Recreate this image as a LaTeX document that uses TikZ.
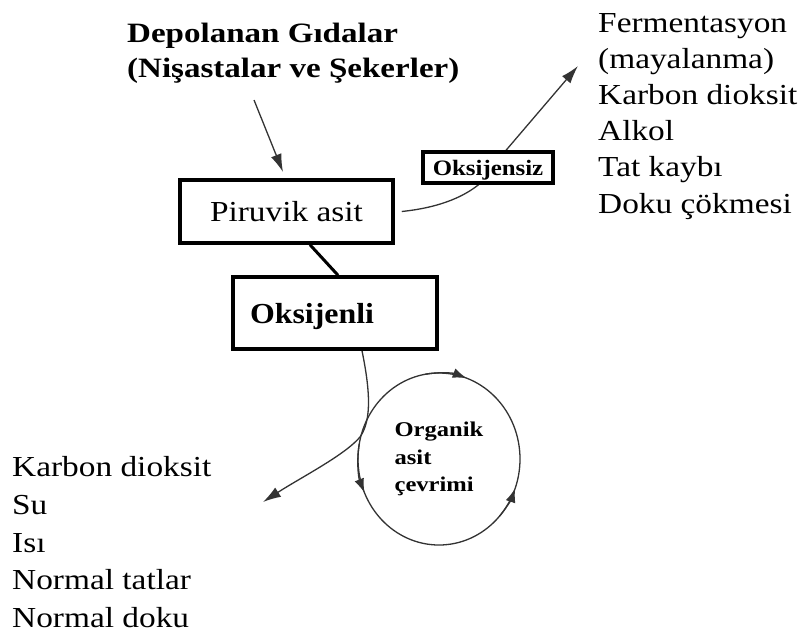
\documentclass[tikz,border=0pt]{standalone}
\usepackage{graphicx}
\usepackage{fontspec}
\setmainfont{Liberation Serif}
\usetikzlibrary{shapes.geometric,arrows.meta,calc}
\pgfdeclarelayer{background}
\pgfsetlayers{background,main}
\newcommand{\hs}[2][1.15]{\scalebox{#1}[1]{#2}}
\begin{document}
\begin{tikzpicture}[x=1pt,y=-1pt,
  box/.style={draw,line width=3.5pt,fill=white,inner sep=0pt,text depth=0pt},
  arr/.style={draw=black!80,line width=1.3pt,-{Latex[length=18pt,width=11pt]}},
  cyc/.style={draw=black!80,line width=1.3pt,-{Latex[length=14pt,width=10pt]}},
  reg/.style={font=\fontsize{29}{35}\selectfont},
  lst/.style={anchor=base west,align=left,inner sep=0pt},
]
\useasboundingbox (0,0) rectangle (803,633);

% title (base anchor = baseline of the last line)
\node[lst,font=\bfseries\fontsize{28}{35}\selectfont] (title) at (127,77)
  {\hs[1.18]{Depolanan Gıdalar}\\\hs[1.18]{(Nişastalar ve Şekerler)}};

% right list
\node[lst,font=\fontsize{29}{36.2}\selectfont] (anaer) at (598,213)
  {\hs{Fermentasyon}\\\hs{(mayalanma)}\\\hs{Karbon dioksit}\\\hs{Alkol}\\\hs{Tat kaybı}\\\hs{Doku çökmesi}};

% left list
\node[lst,font=\fontsize{29}{37.7}\selectfont] (aer) at (12,627.5)
  {\hs{Karbon dioksit}\\\hs{Su}\\\hs{Isı}\\\hs{Normal tatlar}\\\hs{Normal doku}};

% boxes
\node[box,reg,minimum width=213pt,minimum height=63pt] (piruvik) at (286.5,211.5) {\hs{Piruvik asit}};
\node[box,font=\bfseries\fontsize{29}{35}\selectfont,minimum width=204pt,minimum height=72pt,
      text width=170pt,align=left,inner xsep=17pt] (oksijenli) at (335,313) {\hs[1.1]{Oksijenli}};
\node[box,font=\bfseries\fontsize{22}{25}\selectfont,minimum width=130pt,minimum height=31pt]
  (oksijensiz) at (488,167.5) {\hs[1.13]{Oksijensiz}};

% cycle
\node[ellipse,draw=black!80,line width=1.3pt,minimum width=162pt,minimum height=172pt,inner sep=0pt,
      align=left,font=\bfseries\fontsize{21}{27.5}\selectfont] (cycle) at (439,459)
  {\hs[1.17]{Organik}\\\hs[1.17]{asit}\\\hs[1.17]{çevrimi}};

\coordinate (tA) at (254,100);
\coordinate (tB) at (283,172);
\coordinate (fTip) at (578,66);
\coordinate (fMid) at (502,155);
\coordinate (aBend) at (360,437);
\coordinate (aTip) at (263,502);

\begin{pgfonlayer}{background}
\draw[arr] (tA) -- (tB);
\draw[arr] ([xshift=7pt]piruvik.east) .. controls (445,207) and (485,192) .. (fMid) -- (fTip);
\draw[line width=3pt] ([xshift=23.5pt]piruvik.south) -- ([xshift=3pt]oksijenli.north);
\draw[arr] ([xshift=27pt]oksijenli.south) .. controls (370,390) and (372,420) .. (aBend)
  .. controls (345,455) and (300,478) .. (aTip);
\end{pgfonlayer}

% arrowheads on the cycle
\draw[cyc] (cycle.center) ++(-100:81 and 86) arc[start angle=-100,end angle=-70,x radius=81,y radius=86];
\draw[cyc] (cycle.center) ++(190:81 and 86) arc[start angle=190,end angle=157,x radius=81,y radius=86];
\draw[cyc] (cycle.center) ++(42:81 and 86) arc[start angle=42,end angle=20,x radius=81,y radius=86];
\end{tikzpicture}
\end{document}
